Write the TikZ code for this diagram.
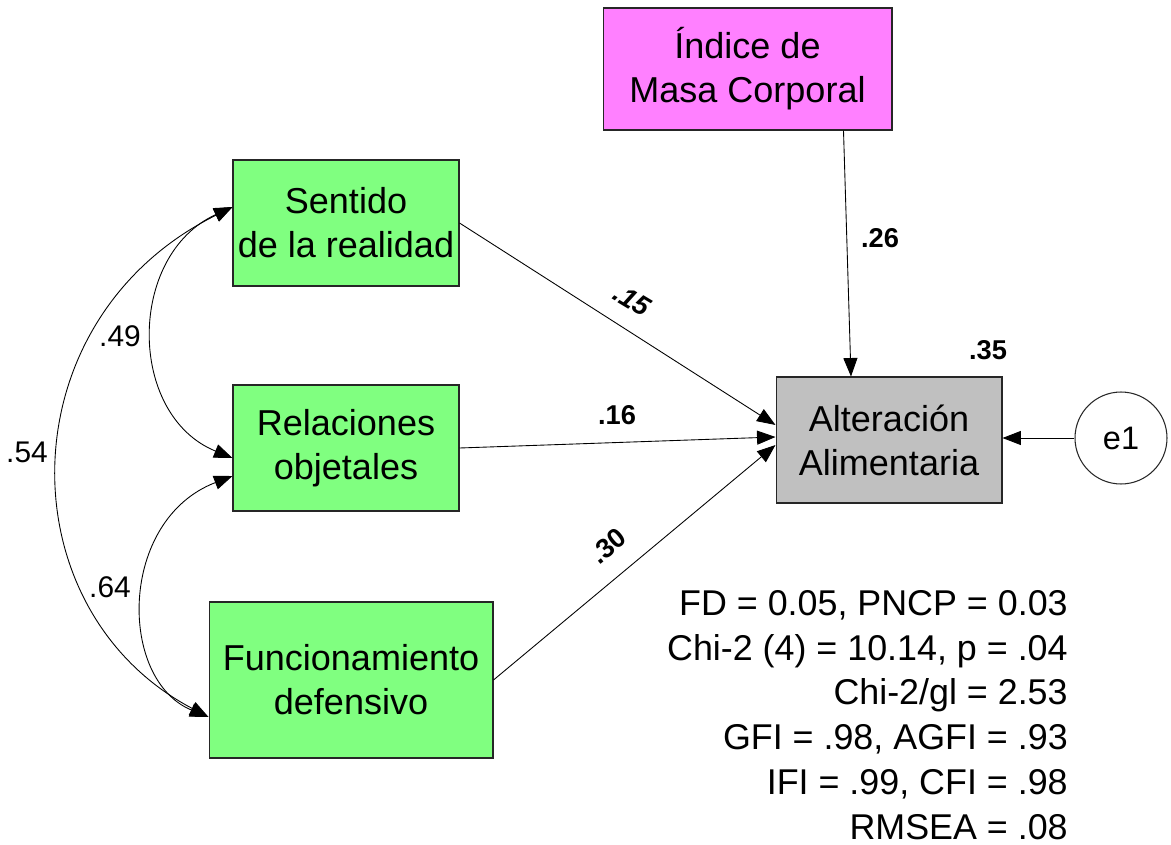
\documentclass[tikz,border=0pt]{standalone}
\usepackage{fontspec}
\setmainfont{Liberation Sans}
\usepackage{xcolor}
\usepackage{tikz}
\usetikzlibrary{arrows.meta, calc, positioning}
\definecolor{boxgreen}{HTML}{80FF80}
\definecolor{boxpink}{HTML}{FF80FF}
\definecolor{boxgray}{HTML}{C0C0C0}
\tikzstyle{observed} = [rectangle, draw=black!85, line width=0.6pt, align=center, font=\fontsize{20.5}{25}\selectfont, inner sep=2pt]
\tikzstyle{effect} = [-{Triangle[length=10.5pt,width=8pt]}, line width=0.5pt]
\tikzstyle{covar} = [{Triangle[length=10.5pt,width=8pt]}-{Triangle[length=10.5pt,width=8pt]}, line width=0.5pt]
\tikzstyle{coef} = [font=\fontsize{15.5}{17}\selectfont\bfseries, inner sep=0pt]
\tikzstyle{corr} = [font=\fontsize{17}{19}\selectfont, inner sep=0pt]

\begin{document}
\begin{tikzpicture}[x=0.02cm, y=-0.02cm, >=Stealth]
\useasboundingbox (0,0) rectangle (1171,845);

\node[observed, fill=boxpink, minimum width=5.78cm, minimum height=2.44cm] (imc) at (747.5,69) {Índice de\\Masa Corporal};
\node[observed, fill=boxgreen, minimum width=4.52cm, minimum height=2.52cm] (sentido) at (346,223) {Sentido\\de la realidad};
\node[observed, fill=boxgreen, minimum width=4.52cm, minimum height=2.52cm] (relaciones) at (346,448) {Relaciones\\objetales};
\node[observed, fill=boxgreen, minimum width=5.68cm, minimum height=3.12cm] (funcionamiento) at (351,680) {Funcionamiento\\defensivo};
\node[observed, fill=boxgray, minimum width=4.52cm, minimum height=2.52cm] (alteracion) at (889,440) {Alteración\\Alimentaria};
\node[circle, draw=black!85, line width=0.6pt, minimum size=1.84cm, inner sep=0pt, font=\fontsize{18.5}{20}\selectfont] (e1) at (1121,438) {e1};

\draw[effect] ($(imc.south east)+(-49,0)$) -- ($(alteracion.north)+(-38,0)$);
\draw[effect] (sentido.east) -- ($(alteracion.west)+(0,-15)$);
\draw[effect] (relaciones.east) -- ($(alteracion.west)+(0,-3)$);
\draw[effect] (funcionamiento.east) -- ($(alteracion.west)+(0,5)$);
\draw[effect] (e1.west) -- (e1.west -| alteracion.east);

\draw[covar] ($(sentido.west)+(0,-16)$) .. controls (127,255) and (127,415) .. ($(relaciones.west)+(0,10)$);
\draw[covar] ($(sentido.west)+(0,-16)$) .. controls (5,320) and (5,610) .. ($(funcionamiento.west)+(0,37)$);
\draw[covar] ($(relaciones.west)+(0,28)$) .. controls (118,520) and (118,680) .. ($(funcionamiento.west)+(0,37)$);

\node[coef] (c26) at (880,238) {.26};
\node[coef, font=\fontsize{15.5}{17}\selectfont\bfseries\itshape, rotate=-31] (c15) at (632,300) {.15};
\node[coef] (c16) at (617,415) {.16};
\node[coef, rotate=39] (c30) at (608,546) {.30};
\node[coef] (c35) at (988,350) {.35};

\node[corr] (r49) at (120,336) {.49};
\node[corr] (r54) at (27,452) {.54};
\node[corr] (r64) at (110,587) {.64};

\node[
align=right,
anchor=east,
inner sep=0pt,
font=\fontsize{20.4}{25.5}\selectfont
] (fitstats) at (1068,715) {
FD = 0.05, PNCP = 0.03\\
Chi-2 (4) = 10.14, p = .04\\
Chi-2/gl = 2.53\\
GFI = .98, AGFI = .93\\
IFI = .99, CFI = .98\\
RMSEA = .08
};
\end{tikzpicture}
\end{document}
